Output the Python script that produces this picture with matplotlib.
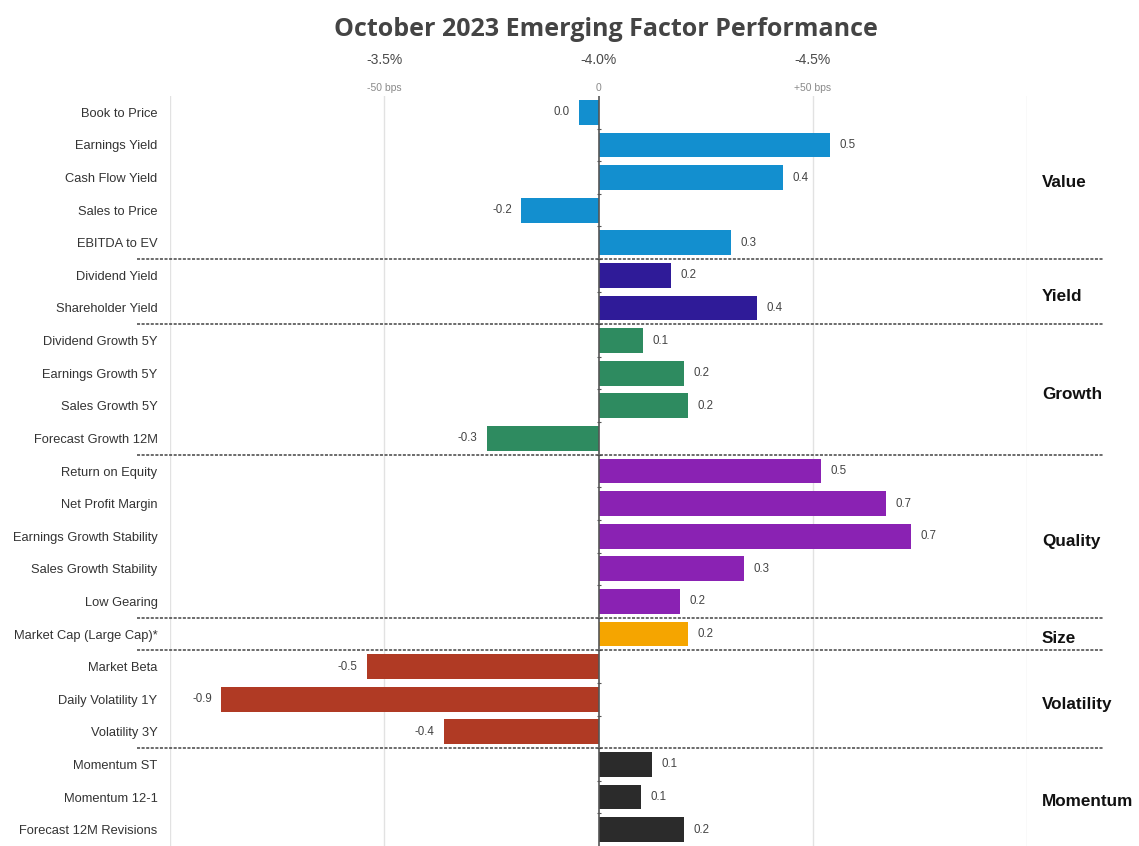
import matplotlib.pyplot as plt
import matplotlib.transforms as mtransforms

# --- datos ---
factores = [
    "Book to Price", "Earnings Yield", "Cash Flow Yield", "Sales to Price", "EBITDA to EV",
    "Dividend Yield", "Shareholder Yield",
    "Dividend Growth 5Y", "Earnings Growth 5Y", "Sales Growth 5Y", "Forecast Growth 12M",
    "Return on Equity", "Net Profit Margin", "Earnings Growth Stability",
    "Sales Growth Stability", "Low Gearing",
    "Market Cap (Large Cap)*",
    "Market Beta", "Daily Volatility 1Y", "Volatility 3Y",
    "Momentum ST", "Momentum 12-1", "Forecast 12M Revisions",
]
valores = [
    -0.045, 0.54, 0.43, -0.18, 0.31,
    0.17, 0.37,
    0.105, 0.20, 0.21, -0.26,
    0.52, 0.67, 0.73, 0.34, 0.19,
    0.21,
    -0.54, -0.88, -0.36,
    0.125, 0.10, 0.20,
]
grupos = ["Value", "Yield", "Growth", "Quality", "Size", "Volatility", "Momentum"]
tam_grupos = [5, 2, 4, 5, 1, 3, 3]
colores_grupos = ["#138fcf", "#2f1b98", "#2e8b60", "#8a22b3", "#f5a500", "#b03a24", "#2b2b2b"]

ticks_x = [-0.5, 0.0, 0.5]
etiquetas_pct = ["-3.5%", "-4.0%", "-4.5%"]
etiquetas_bps = ["-50 bps", "0", "+50 bps"]

# --- figura ---
fig = plt.figure(figsize=(11.39, 8.46), dpi=100)
ax = fig.add_axes([170 / 1139, 0.0, 857 / 1139, 750 / 846])

colores = []
for col, n in zip(colores_grupos, tam_grupos):
    colores += [col] * n

y = list(range(len(factores)))
ax.barh(y, valores, height=0.76, color=colores, zorder=3)
ax.set_ylim(len(factores) - 0.5, -0.5)
ax.set_xlim(-1.0, 1.0)

# rejilla vertical
for gx in [-1.0, -0.5, 0.5, 1.0]:
    ax.axvline(gx, color="#e2e2e2", lw=1, zorder=1)
ax.axvline(0, color="#555555", lw=1.2, zorder=4)
# marcas pequenas sobre la linea de cero
ax.scatter([0] * (len(factores) - 1), [i + 0.5 for i in range(len(factores) - 1)],
           marker="_", s=12, color="#555555", lw=0.8, zorder=4)

for s in ax.spines.values():
    s.set_visible(False)
ax.set_xticks([])
ax.set_yticks(y)
ax.set_yticklabels(factores, fontsize=9.3, color="#333333", family="Liberation Sans")
ax.tick_params(axis="y", length=0, pad=9)

# etiquetas de valor
for yi, v in zip(y, valores):
    txt = f"{v:.1f}"
    if txt == "-0.0":
        txt = "0.0"
    off = 0.022 if v >= 0 else -0.022
    ax.text(v + off, yi, txt, ha="left" if v >= 0 else "right", va="center",
            fontsize=8.3, color="#444444", family="Liberation Sans", zorder=5)

# separadores de grupo y nombres
trans = mtransforms.blended_transform_factory(ax.transAxes, ax.transData)
inicio = 0
for g, n in zip(grupos, tam_grupos):
    fin = inicio + n
    ax.text(1.0175, (inicio + fin - 1) / 2 + 0.15, g, transform=trans, ha="left", va="center",
            fontsize=12.3, fontweight="bold", color="#111111", family="Liberation Sans")
    if fin < len(factores):
        ax.plot([-0.039, 1.089], [fin - 0.5, fin - 0.5], transform=trans, clip_on=False,
                color="#444444", lw=1.1, linestyle=(0, (2, 1)), zorder=6)
    inicio = fin

# etiquetas superiores
trans_top = mtransforms.blended_transform_factory(ax.transData, fig.transFigure)
for tx, p, b in zip(ticks_x, etiquetas_pct, etiquetas_bps):
    ax.text(tx, 1 - 60 / 846, p, transform=trans_top, ha="center", va="center",
            fontsize=10, color="#4a4a4a", family="Liberation Sans")
    ax.text(tx, 1 - 88 / 846, b, transform=trans_top, ha="center", va="center",
            fontsize=7.5, color="#8a8a8a", family="Liberation Sans")

fig.text(606 / 1139, 1 - 29 / 846, "October 2023 Emerging Factor Performance",
         ha="center", va="center", fontsize=18, fontweight="bold", color="#444444",
         family="Open Sans")

fig.savefig("out.png", dpi=100)
